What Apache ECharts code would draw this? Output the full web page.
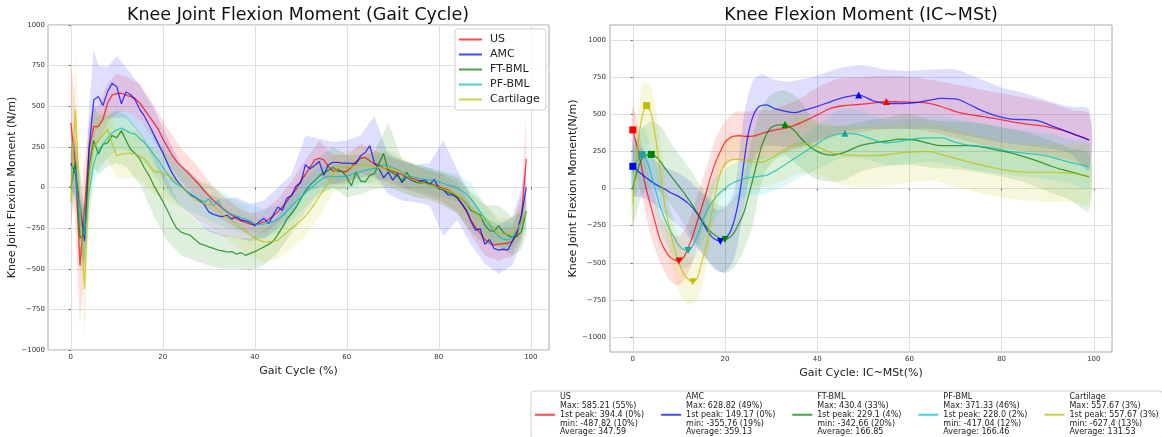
<!DOCTYPE html>
<html><head><meta charset="utf-8">
<script src="https://cdn.jsdelivr.net/npm/echarts@6/dist/echarts.min.js"></script>
<style>html,body{margin:0;padding:0;background:#fff}#c{width:1162px;height:437px}</style>
</head><body><div id="c"></div>
<script>
// ---------- categories / ticks ----------
const groups = ['US','AMC','FT-BML','PF-BML','Cartilage'];
const xTicks = [0,20,40,60,80,100];
const yTicks = [-1000,-750,-500,-250,0,250,500,750,1000];

// ---------- left chart: full gait cycle (mean lines, x = 0..99) ----------
const xL = Array.from({length:100}, (_, i) => i);
const usL = [398,150,-480,-120,240,375,375,420,520,570, 578,580,568,560,548,520,480,440,400,360, 300,250,200,160,130,105,75,45,15,-20, -50,-80,-105,-130,-150,-170,-190,-205,-215,-225, -228,-222,-212,-195,-175,-150,-120,-85,-45,-10, 40,80,125,170,180,170,130,100,115,95, 100,125,160,180,185,165,145,140,120,110, 100,90,80,65,57,50,40,30,25,15, 5,-5,-15,-35,-60,-100,-145,-200,-245,-280, -320,-340,-355,-348,-345,-343,-330,-290,-170,175];
const amcL = [150,90,-110,-330,250,540,560,505,590,642, 620,515,588,572,540,480,440,385,330,270, 215,150,90,45,10,-20,-45,-60,-80,-105, -150,-165,-175,-180,-170,-195,-180,-200,-205,-215, -235,-210,-190,-222,-170,-120,-140,-65,-50,10, 30,140,115,135,160,75,140,155,155,150, 150,148,145,195,215,258,150,115,60,95, 45,85,30,65,45,35,40,45,15,50, -5,-15,-45,-45,-65,-100,-140,-210,-262,-255, -350,-320,-375,-385,-380,-385,-330,-270,-165,0];
const ftL = [0,155,-310,-290,140,290,205,265,275,320, 305,350,290,235,210,175,120,75,15,-35, -85,-140,-200,-250,-275,-285,-295,-320,-345,-355, -365,-375,-385,-390,-398,-395,-410,-400,-418,-405, -395,-380,-365,-350,-330,-290,-245,-195,-160,-120, -70,-20,15,40,70,90,105,125,100,100, 65,10,95,40,35,75,85,150,210,100, 90,70,40,95,50,35,25,30,25,10, -5,-15,-30,-40,-55,-70,-100,-140,-155,-170, -230,-265,-270,-235,-275,-295,-305,-300,-270,-145];
const pfL = [100,110,-210,-295,-30,150,230,265,305,335, 355,365,350,335,330,300,275,245,205,170, 125,85,45,20,5,-15,-35,-55,-75,-90, -70,-115,-80,-130,-150,-165,-175,-185,-195,-205, -225,-228,-225,-218,-210,-195,-175,-145,-115,-85, -60,-35,-5,15,40,60,68,67,67,67, 70,80,90,98,105,112,118,128,138,132, 122,110,95,80,68,62,55,50,45,40, 36,25,15,8,-5,-20,-40,-70,-110,-150, -190,-230,-270,-300,-318,-323,-310,-260,-210,-160];
const cartL = [-90,480,-100,-625,60,250,290,320,360,270, 195,205,210,210,205,195,175,140,100,95, 90,75,60,30,5,-20,-50,-75,-90,-100, -105,-110,-140,-170,-185,-205,-225,-250,-270,-290, -310,-325,-335,-335,-332,-325,-300,-275,-250,-230, -205,-175,-140,-100,-55,-15,30,85,120,128, 120,125,135,140,140,130,125,120,120,120, 115,105,90,70,50,40,30,25,18,10, 0,-10,-20,-30,-50,-70,-100,-130,-155,-180, -200,-215,-260,-280,-285,-287,-280,-250,-215,-150];

// left chart bands (mean ± sd), read at these x positions
const bandXL = [0,1,2,3,4,5,6,8,10,12,15,18,21,24,27,30,33,36,39,42,45,48,51,54,57,60,63,66,69,72,75,78,81,84,87,90,93,96,98,99];
const usLo = [0,-200,-850,-450,60,250,270,400,460,470,420,300,150,40,-50,-130,-200,-250,-285,-280,-220,-120,-10,80,20,20,90,60,30,0,-30,-55,-90,-150,-290,-420,-450,-420,-300,-50];
const usHi = [790,500,-100,150,420,500,500,640,700,680,640,510,370,240,150,40,-50,-120,-160,-140,-70,40,170,290,200,200,270,230,190,160,130,100,80,30,-110,-210,-250,-240,-40,450];
const amcLo = [0,-80,-300,-500,0,300,380,430,430,430,330,170,-10,-120,-190,-270,-300,-310,-330,-310,-250,-170,-30,0,20,40,60,80,-40,-80,-90,-110,-300,-200,-350,-470,-530,-480,-330,-150];
const amcHi = [330,280,90,-150,500,850,750,740,810,740,630,490,310,140,70,-40,-70,-60,-100,-80,0,80,320,300,280,290,320,440,200,170,140,150,290,110,-60,-180,-230,-180,0,150];
const ftLo = [-250,0,-500,-450,0,130,80,130,150,130,20,-170,-330,-420,-450,-480,-500,-500,-510,-480,-400,-280,-150,-40,0,-60,-40,-10,0,-30,-60,-70,-110,-160,-270,-350,-360,-420,-380,-290];
const ftHi = [250,330,-120,-100,330,500,450,440,470,450,340,200,50,-130,-200,-260,-290,-310,-310,-260,-180,-40,100,190,250,200,200,220,400,170,140,120,90,60,-30,-110,-110,-180,-150,0];
const pfLo = [-50,-30,-400,-480,-200,30,100,180,230,230,180,80,-40,-120,-160,-200,-240,-270,-300,-310,-280,-200,-120,-30,-10,-10,20,40,50,10,-20,-40,-60,-90,-180,-290,-390,-380,-290,-250];
const pfHi = [250,260,-50,-100,150,300,370,440,480,470,420,330,210,120,50,20,-30,-80,-110,-130,-110,-30,50,120,140,150,180,200,220,170,140,120,100,80,30,-100,-210,-220,-120,-70];
const cartLo = [-250,150,-400,-930,-200,100,130,180,50,60,50,-40,-80,-130,-200,-230,-300,-360,-420,-460,-440,-380,-300,-180,-30,10,30,20,10,-20,-60,-80,-110,-150,-240,-300,-370,-380,-330,-280];
const cartHi = [80,820,250,-350,300,420,450,500,350,360,340,240,230,140,50,20,-50,-100,-160,-210,-200,-120,-50,70,200,230,250,230,230,190,140,110,90,60,-20,-100,-190,-190,-110,-20];

// ---------- right chart: IC~MSt ----------
const xR = [0,1,2,3,4,5,6,7,8,9,10,11,12,13,14,15,16,17,18,19,20,21,22,23,24,25,26,27,28,29,30, 31,33,35,37,40,43,46,49,52,55,58,61,64,67,70,73,76,79,82,85,88,91,94,97,99];
const usR = [394.4,270,130,-15,-130,-245,-350,-415,-460,-480,-487.82,-465,-400,-320,-220,-120,-20,90,180,250,310,340,352,355,352,350,352,360,370,380,388, 395,405,425,450,495,540,558,565,575,585.21,583,580,575,550,518,497,484,468,450,435,425,408,385,350,328];
const amcR = [149.17,120,95,70,48,28,10,-5,-25,-40,-55,-75,-100,-130,-170,-220,-275,-320,-345,-355.76,-335,-300,-215,-75,150,360,480,540,560,562,550, 535,520,510,525,552,585,615,628.82,592,572,572,577,592,607,603,565,520,487,467,463,455,420,385,350,325];
const ftR = [0,120,200,225,229.1,215,180,135,95,55,15,-25,-70,-115,-165,-215,-260,-295,-318,-335,-342.66,-330,-295,-235,-170,-60,59,180,290,365,410, 425,430.4,390,320,250,225,245,285,306,318,332,328,305,288,288,288,278,258,240,213,183,148,120,95,78];
const pfR = [110,190,228.0,190,90,-20,-130,-210,-275,-330,-385,-410,-417.04,-385,-320,-230,-155,-100,-60,-25,0,25,42,55,65,72,77,80,84,88,105, 120,160,200,240,300,355,371.33,362,330,306,318,333,340,340,310,290,282,268,248,238,228,210,183,160,145];
const cartR = [-100,270,480,557.67,500,330,100,-120,-270,-400,-500,-570,-610,-627.4,-600,-490,-380,-180,-20,100,165,190,196,195,192,185,180,177,177,188,205, 220,262,290,303,282,240,228,221,221,227,240,246,250,228,202,178,155,133,118,110,108,108,105,95,82];

const bandXR = [0,2,4,6,8,10,12,14,16,18,20,22,24,26,28,30,33,36,40,45,50,55,60,65,70,75,80,85,90,95,99];
const usRLo = [230,-60,-330,-500,-620,-650,-570,-390,-190,20,150,190,190,190,200,220,240,270,310,360,380,400,400,380,340,300,270,250,220,190,160];
const usRHi = [560,290,30,-170,-290,-320,-230,-50,150,340,450,510,520,520,530,530,560,600,680,740,750,760,750,730,700,670,640,610,580,530,500];
const amcRLo = [-40,-60,-90,-140,-200,-250,-320,-400,-480,-550,-560,-470,-150,180,280,290,280,280,320,380,400,400,400,400,370,340,310,290,270,230,120];
const amcRHi = [340,270,210,160,130,100,60,0,-60,-140,-130,-20,470,720,770,740,720,730,760,810,830,800,790,800,800,740,680,640,590,550,530];
const ftRLo = [-240,-50,10,-30,-100,-190,-290,-380,-470,-540,-570,-530,-420,-250,50,170,220,150,60,50,120,150,160,140,130,110,80,40,-20,-80,-150];
const ftRHi = [240,400,450,420,320,230,150,50,-40,-100,-120,-70,80,350,540,630,660,600,440,420,450,480,500,460,450,440,410,380,330,270,230];
const pfRLo = [-60,20,-100,-300,-420,-520,-530,-440,-300,-200,-130,-90,-60,-40,-40,-20,20,70,130,200,200,160,170,180,150,120,100,80,60,30,0];
const pfRHi = [270,420,280,50,-120,-260,-300,-200,0,80,130,170,190,200,210,220,270,330,420,530,520,460,470,490,470,440,410,390,370,330,300];
const cartRLo = [-250,250,300,-100,-460,-700,-780,-750,-520,-160,0,30,30,20,10,20,60,100,100,30,10,20,40,50,10,-30,-60,-80,-90,-90,-100];
const cartRHi = [60,700,690,300,-120,-340,-460,-420,-100,150,330,360,370,370,370,390,440,480,460,420,420,430,440,440,400,360,320,300,300,300,290];

// ---------- statistics (bottom legend + markers) ----------
const maxTxt = ['585.21','628.82','430.4','371.33','557.67'];
const maxPct = [55,49,33,46,3];
const peakTxt = ['394.4','149.17','229.1','228.0','557.67'];
const peakPct = [0,0,4,2,3];
const minTxt = ['-487.82','-355.76','-342.66','-417.04','-627.4'];
const minPct = [10,19,20,12,13];
const avgTxt = ['347.59','359.13','166.85','166.46','131.53'];

// ---------- styles ----------
const rgb = ['255,0,0','0,0,255','0,128,0','0,191,191','191,191,0'];
const lineColors = rgb.map(c => 'rgba(' + c + ',0.72)');
const bandColors = rgb.map(c => 'rgba(' + c + ',0.13)');
const markerColors = ['#ff0000','#0000ff','#008000','#16a89e','#bfbf00'];
const FONT = 'DejaVu Sans';

const linesL = [usL, amcL, ftL, pfL, cartL];
const loL = [usLo, amcLo, ftLo, pfLo, cartLo];
const hiL = [usHi, amcHi, ftHi, pfHi, cartHi];
const linesR = [usR, amcR, ftR, pfR, cartR];
const loR = [usRLo, amcRLo, ftRLo, pfRLo, cartRLo];
const hiR = [usRHi, amcRHi, ftRHi, pfRHi, cartRHi];

const pairs = (xs, ys) => xs.map((x, i) => [x, ys[i]]);
const minus = v => String(v).replace('-', '\u2212');

const series = [];
function addBand(ax, xs, lo, hi, i, smooth) {
  series.push({type:'custom', name:'band' + ax + '_' + i, xAxisIndex:ax, yAxisIndex:ax, silent:true, z:1,
    data: xs.map((x, k) => [x, lo[k], hi[k]]),
    encode: {x:0, y:[1,2]},
    renderItem: function (params, api) {
      if (params.dataIndex !== 0) return null;
      const top = xs.map((x, k) => api.coord([x, hi[k]]));
      const bot = xs.map((x, k) => api.coord([x, lo[k]])).reverse();
      return {type:'polygon', shape:{points: top.concat(bot), smooth: smooth},
              style:{fill: bandColors[i], stroke: null}};
    }});
}
for (let i = 0; i < 5; i++) addBand(0, bandXL, loL[i], hiL[i], i, 0);
for (let i = 0; i < 5; i++) addBand(1, bandXR, loR[i], hiR[i], i, 0.3);
for (let i = 0; i < 5; i++) {
  series.push({type:'line', name:groups[i], xAxisIndex:0, yAxisIndex:0, data:pairs(xL, linesL[i]),
    symbol:'none', z:3, color:lineColors[i], lineStyle:{width:1.3, color:lineColors[i]}});
}
for (let i = 0; i < 5; i++) {
  series.push({type:'line', name:groups[i], xAxisIndex:1, yAxisIndex:1, data:pairs(xR, linesR[i]),
    symbol:'none', smooth:0.35, z:3, color:lineColors[i], lineStyle:{width:1.3, color:lineColors[i]}});
}
for (let i = 0; i < 5; i++) {
  series.push({type:'scatter', name:'mk' + i, xAxisIndex:1, yAxisIndex:1, z:5, silent:true, symbolSize:7,
    itemStyle:{color:markerColors[i], opacity:1},
    data:[
      {value:[maxPct[i], Number(maxTxt[i])], symbol:'triangle'},
      {value:[minPct[i], Number(minTxt[i])], symbol:'triangle', symbolRotate:180},
      {value:[peakPct[i], Number(peakTxt[i])], symbol:'rect'}
    ]});
}

const tickLabel = {fontSize:7, color:'#333', fontFamily:FONT, formatter:minus};
const split = {show:true, lineStyle:{color:'#dedede', width:1}};
const nameStyle = {fontSize:11, color:'#222', fontFamily:FONT};

function xAxis(idx, name) {
  return {type:'value', gridIndex:idx, min:-4.95, max:103.95,
    axisLine:{show:false}, axisTick:{show:true, length:2, customValues:xTicks, lineStyle:{color:'#666'}},
    axisLabel:Object.assign({customValues:xTicks, margin:4}, tickLabel), splitLine:split,
    name:name, nameLocation:'middle', nameGap:9, nameTextStyle:nameStyle};
}
const option = {
  backgroundColor:'#ffffff',
  animation:false,
  textStyle:{fontFamily:FONT},
  title:[
    {text:'Knee Joint Flexion Moment (Gait Cycle)', left:298, top:6, textAlign:'center', padding:0,
     textStyle:{fontSize:17.5, fontWeight:'normal', color:'#111', fontFamily:FONT}},
    {text:'Knee Flexion Moment (IC~MSt)', left:861, top:6, textAlign:'center', padding:0,
     textStyle:{fontSize:17.5, fontWeight:'normal', color:'#111', fontFamily:FONT}}
  ],
  grid:[
    {left:48, top:25, width:501, height:325, show:true, borderColor:'#a8a8a8', borderWidth:1, backgroundColor:'transparent'},
    {left:610, top:25, width:502, height:327, show:true, borderColor:'#a8a8a8', borderWidth:1, backgroundColor:'transparent'}
  ],
  xAxis:[xAxis(0, 'Gait Cycle (%)'), xAxis(1, 'Gait Cycle: IC~MSt(%)')],
  yAxis:[
    {type:'value', gridIndex:0, min:-1000, max:1000, interval:250,
     axisLine:{show:false}, axisTick:{show:true, length:2, lineStyle:{color:'#666'}},
     axisLabel:Object.assign({margin:3}, tickLabel), splitLine:split,
     name:'Knee Joint Flexion Moment (N/m)', nameLocation:'middle', nameGap:26, nameRotate:90, nameTextStyle:nameStyle},
    {type:'value', gridIndex:1, min:-1100, max:1100,
     axisLine:{show:false}, axisTick:{show:true, length:2, customValues:yTicks, lineStyle:{color:'#666'}},
     axisLabel:Object.assign({customValues:yTicks, margin:4}, tickLabel), splitLine:split,
     name:'Knee Joint Flexion Moment(N/m)', nameLocation:'middle', nameGap:26, nameRotate:90, nameTextStyle:nameStyle}
  ],
  legend:[
    {data:groups, orient:'vertical', left:455, top:29, icon:'rect', itemWidth:23, itemHeight:2, itemGap:4,
     padding:[5,6,5,4], borderColor:'#d0d0d0', borderWidth:1, borderRadius:3,
     backgroundColor:'rgba(255,255,255,0.85)', selectedMode:false, z:10,
     textStyle:{fontSize:11, color:'#222', fontFamily:FONT, padding:[0,0,0,3]}},
    {data:groups, orient:'horizontal', left:531, top:391, width:800, icon:'rect', itemWidth:20, itemHeight:2, itemGap:17,
     padding:[2,4,2,4], borderColor:'#d0d0d0', borderWidth:1, borderRadius:3,
     backgroundColor:'#ffffff', selectedMode:false, z:10,
     textStyle:{fontSize:8, lineHeight:8.7, color:'#222', fontFamily:FONT},
     formatter:function(name){
       const i = groups.indexOf(name);
       return name + '\nMax: ' + maxTxt[i] + ' (' + maxPct[i] + '%)' +
         '\n1st peak: ' + peakTxt[i] + ' (' + peakPct[i] + '%)' +
         '\nmin: ' + minTxt[i] + ' (' + minPct[i] + '%)' +
         '\nAverage: ' + avgTxt[i];
     }}
  ],
  series:series
};
const chart = echarts.init(document.getElementById('c'), null, {renderer:'canvas'});
chart.setOption(option);
</script>
</body></html>
